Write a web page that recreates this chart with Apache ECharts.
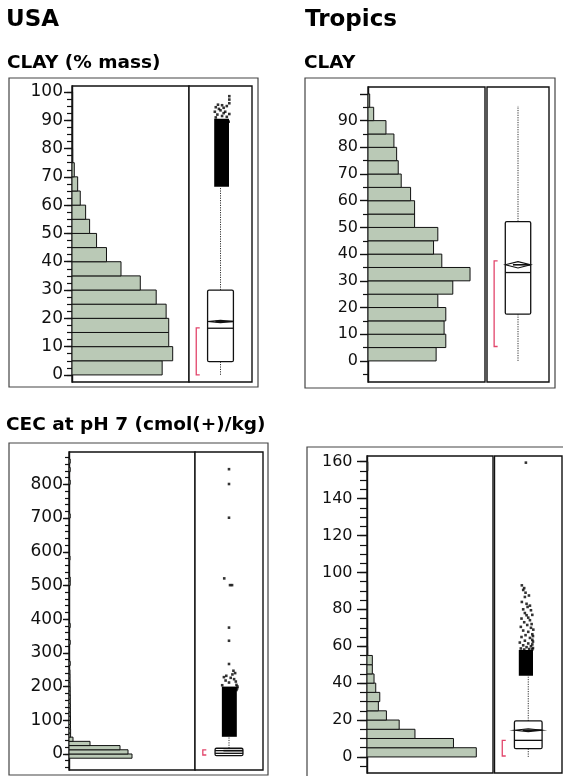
<!DOCTYPE html>
<html><head><meta charset="utf-8">
<script src="https://cdn.jsdelivr.net/npm/echarts@6/dist/echarts.min.js"></script>
<style>html,body{margin:0;padding:0;background:#fff}#c{width:563px;height:776px}</style>
</head><body><div id="c"></div>
<script>
// ================= DATA =================
// USA – CLAY (% mass)
const usaClayBinWidth = 5;
const usaClayBinStart = [0,5,10,15,20,25,30,35,40,45,50,55,60,65,70,75,80,85,90,95];
const usaClayCounts   = [907,1013,973,973,947,847,687,493,347,247,177,137,83,57,23,7,4,3,2,1];
// [lowWhisker, q1, median, q3, highWhisker, mean, meanCI, shortestHalfLo, shortestHalfHi]
const usaClayBox = [0, 4.7, 16.5, 30, 66.5, 18.9, 0.4, 0, 16.6];
const usaClayDense = [-0.2, 0.27, 66.5, 90.5];
const usaClayOutliers = [[-0.15,91],[0.05,91.5],[0.2,91.2],[-0.1,92],[0.1,92.5],[-0.18,93],[0.0,93.5],[0.15,93],[-0.05,94],[0.1,94.4],[-0.15,94.6],[0.2,95],[0.05,95.3],[-0.08,95.5],[0.28,96],[0.28,97.3],[0.28,98.5],[0.28,92.2],[0.26,89.5]];
const usaClayTicks = [0,10,20,30,40,50,60,70,80,90,100];

// Tropics – CLAY
const trClayBinWidth = 5;
const trClayBinStart = [0,5,10,15,20,25,30,35,40,45,50,55,60,65,70,75,80,85,90,95];
const trClayCounts   = [683,780,763,780,700,850,1023,740,657,700,467,467,427,333,303,287,260,180,57,17];
const trClayBox = [0, 17.5, 33.1, 52.2, 95.5, 36.0, 1.2, 5.4, 37.5];
const trClayTicks = [0,10,20,30,40,50,60,70,80,90,100];
const trClayLabels = [0,10,20,30,40,50,60,70,80,90];

// USA – CEC at pH 7
const usaCecBinWidth = 12.5;
const usaCecBinStart = [-12.5,0,12.5,25,37.5,50,62.5,75,87.5,100,112.5,125,137.5,150,162.5,175,187.5,200,212.5,225,237.5,262.5,325,375,500,512.5,575,700,800,837.5,862.5];
const usaCecCounts   = [630,590,510,210,40,16,16,15,15,15,14,14,14,13,13,12,12,11,10,10,9,12,12,12,12,12,10,12,12,12,12];
const usaCecBox = [-5, -5, 2, 17, 51, 10, 0.5, -3, 12];
const usaCecDense = [-0.21, 0.23, 51, 200];
const usaCecOutliers = [[0.0,845],[0.0,801],[0.0,701],[-0.14,521],[0.03,501],[0.09,501],[0.0,375],[0.0,336],[0.0,267],[0.13,247],[0.18,240],[0.1,236],[-0.08,232],[-0.15,228],[0.05,226],[0.15,222],[-0.1,218],[0.2,215],[0.0,212],[0.22,205],[0.25,200],[0.24,195],[-0.2,204],[0.22,190]];
const usaCecTicks = [0,100,200,300,400,500,600,700,800];

// Tropics – CEC
const trCecBinWidth = 5;
const trCecBinStart = [0,5,10,15,20,25,30,35,40,45,50,55,60,65,70,75,80,85,90,155];
const trCecCounts   = [1087,860,477,320,193,113,127,87,70,53,53,7,6,6,6,6,6,6,6,8];
const trCecBox = [0, 4.5, 9.0, 19.5, 43.5, 14.5, 0.8, 0.5, 9.0];
const trCecDense = [-0.28, 0.14, 44, 58];
const trCecOutliers = [[-0.07,159.5],[-0.19,93.0],[-0.12,91.5],[-0.15,90.5],[-0.08,89.0],[-0.10,86.7],[0.02,87.5],[-0.19,84.0],[-0.05,83.0],[0.05,82.0],[-0.02,81.3],[-0.15,80.0],[0.08,79.5],[-0.1,78.0],[0.12,77.0],[-0.05,76.8],[0.0,75.5],[-0.2,75.0],[0.05,74.1],[-0.12,73.0],[0.1,72.0],[-0.03,71.5],[-0.22,70.5],[0.08,70.0],[0.15,69.0],[-0.15,68.5],[0.0,67.8],[0.12,66.5],[-0.08,66.0],[0.14,65.5],[-0.2,65.0],[0.05,64.5],[0.12,63.5],[-0.1,63.0],[0.14,62.5],[-0.25,62.0],[0.0,61.5],[0.12,61.0],[-0.15,60.5],[0.08,60.0],[-0.05,59.5],[0.14,59.0],[-0.22,58.8],[0.12,58.3],[0.03,58.5],[-0.12,58.2]];
const trCecTicks = [0,20,40,60,80,100,120,140,160];

// ================= RENDER =================
function steps(a, b, s) { const r = []; for (let v = a; v <= b + 1e-9; v += s) r.push(+v.toFixed(3)); return r; }
const BAR_FILL = '#bac9b6', INK = '#111', RED = '#e2456b';
const BOX_HW = 0.41, BRACKET_X = -0.77;

const option = { animation: false, backgroundColor: '#fff', title: [], grid: [], xAxis: [], yAxis: [], series: [], graphic: [] };

function histItem(params, api) {
  const p0 = api.coord([0, api.value(1)]);
  const p1 = api.coord([api.value(2), api.value(0)]);
  return { type: 'rect', shape: { x: p0[0], y: p0[1], width: Math.max(p1[0] - p0[0], 0.6), height: p1[1] - p0[1] },
    style: { fill: BAR_FILL, stroke: INK, lineWidth: 1 } };
}
function denseItem(params, api) {
  const a = api.coord([api.value(0), api.value(3)]);
  const b = api.coord([api.value(1), api.value(2)]);
  return { type: 'rect', shape: { x: a[0], y: a[1], width: b[0] - a[0], height: b[1] - a[1] }, style: { fill: '#000' } };
}
function boxItem(params, api) {
  const v = i => api.value(i);
  const lo = v(0), q1 = v(1), med = v(2), q3 = v(3), hi = v(4), mean = v(5), ci = v(6), bLo = v(7), bHi = v(8);
  const X = x => api.coord([x, 0])[0];
  const Y = y => api.coord([0, y])[1];
  const xl = X(-BOX_HW), xr = X(BOX_HW), xc = X(0), bx = X(BRACKET_X);
  const dash = { stroke: '#333', lineWidth: 1, lineDash: [1.2, 1.2] };
  return { type: 'group', children: [
    { type: 'line', shape: { x1: xc, y1: Y(q3), x2: xc, y2: Y(hi) }, style: dash },
    { type: 'line', shape: { x1: xc, y1: Y(q1), x2: xc, y2: Y(lo) }, style: dash },
    { type: 'rect', shape: { x: xl, y: Y(q3), width: xr - xl, height: Y(q1) - Y(q3), r: 1.5 }, style: { fill: '#fff', stroke: INK, lineWidth: 1.3 } },
    { type: 'line', shape: { x1: xl, y1: Y(med), x2: xr, y2: Y(med) }, style: { stroke: INK, lineWidth: 1.3 } },
    { type: 'polygon', shape: { points: [[xl, Y(mean)], [xc, Y(mean + ci)], [xr, Y(mean)], [xc, Y(mean - ci)]] }, style: { fill: 'none', stroke: INK, lineWidth: 1.1 } },
    { type: 'line', shape: { x1: xl + 0.3 * (xr - xl), y1: Y(mean), x2: xr, y2: Y(mean) }, style: { stroke: INK, lineWidth: 1.6 } },
    { type: 'polyline', shape: { points: [[bx + 3.5, Y(bHi)], [bx, Y(bHi)], [bx, Y(bLo)], [bx + 3.5, Y(bLo)]] }, style: { fill: 'none', stroke: RED, lineWidth: 1.3 } }
  ] };
}

function addPanel(cfg) {
  const gH = option.grid.length, gB = gH + 1;
  option.grid.push(Object.assign({ show: true, borderColor: INK, borderWidth: 1.4, backgroundColor: '#fff' }, cfg.hist));
  option.grid.push(Object.assign({ show: true, borderColor: INK, borderWidth: 1.4, backgroundColor: '#fff' }, cfg.box));
  const xH = option.xAxis.length, xB = xH + 1;
  option.xAxis.push({ gridIndex: gH, type: 'value', min: 0, max: cfg.countMax, show: false });
  option.xAxis.push({ gridIndex: gB, type: 'value', min: -1, max: 1, show: false });
  const yH = option.yAxis.length, yB = yH + 2;
  option.yAxis.push({ gridIndex: gH, type: 'value', min: cfg.yMin, max: cfg.yMax, position: 'left',
    axisLine: { show: true, onZero: false, lineStyle: { color: INK, width: 1.4 } },
    axisTick: { show: true, length: cfg.majorLen, customValues: cfg.ticks, lineStyle: { color: INK, width: 1.4 } },
    axisLabel: { show: true, customValues: cfg.labels, margin: cfg.margin, fontSize: cfg.fontSize, fontFamily: 'DejaVu Sans', color: INK },
    splitLine: { show: false } });
  option.yAxis.push({ gridIndex: gH, type: 'value', min: cfg.yMin, max: cfg.yMax, position: 'left',
    axisLine: { show: false, onZero: false },
    axisTick: { show: true, length: cfg.minorLen, customValues: cfg.minor, lineStyle: { color: INK, width: 1.2 } },
    axisLabel: { show: false }, splitLine: { show: false } });
  option.yAxis.push({ gridIndex: gB, type: 'value', min: cfg.yMin, max: cfg.yMax, show: false });

  option.series.push({ type: 'custom', xAxisIndex: xH, yAxisIndex: yH, renderItem: histItem, clip: true,
    data: cfg.binStart.map((s, i) => [s, s + cfg.binWidth, cfg.counts[i]]) });
  if (cfg.dense) option.series.push({ type: 'custom', xAxisIndex: xB, yAxisIndex: yB, renderItem: denseItem, data: [cfg.dense] });
  if (cfg.outliers) option.series.push({ type: 'scatter', xAxisIndex: xB, yAxisIndex: yB, symbol: 'rect', symbolSize: 2.6,
    itemStyle: { color: '#000' }, data: cfg.outliers, silent: true });
  option.series.push({ type: 'custom', xAxisIndex: xB, yAxisIndex: yB, renderItem: boxItem, data: [cfg.boxStats], clip: false });
  option.graphic.push({ type: 'rect', z: -1, silent: true, shape: cfg.frame, style: { fill: 'none', stroke: '#444', lineWidth: 1.2 } });
}

addPanel({ hist: { left: 72, top: 86, width: 117, height: 296 }, box: { left: 189, top: 86, width: 63, height: 296 },
  frame: { x: 9, y: 78, width: 249, height: 309 }, yMin: -2.5, yMax: 102.1, countMax: 1177,
  ticks: usaClayTicks, labels: usaClayTicks, minor: steps(0, 100, 2.5), majorLen: 8, minorLen: 5, margin: 9, fontSize: 17,
  binStart: usaClayBinStart, binWidth: usaClayBinWidth, counts: usaClayCounts, boxStats: usaClayBox, dense: usaClayDense, outliers: usaClayOutliers });

addPanel({ hist: { left: 368, top: 87, width: 117, height: 295 }, box: { left: 487, top: 87, width: 62, height: 295 },
  frame: { x: 305, y: 78, width: 250, height: 310 }, yMin: -7.9, yMax: 102.6, countMax: 1173,
  ticks: trClayTicks, labels: trClayLabels, minor: steps(-5, 95, 10), majorLen: 8, minorLen: 5, margin: 10, fontSize: 16,
  binStart: trClayBinStart, binWidth: trClayBinWidth, counts: trClayCounts, boxStats: trClayBox });

addPanel({ hist: { left: 69, top: 452, width: 126, height: 318 }, box: { left: 195, top: 452, width: 68, height: 318 },
  frame: { x: 9, y: 443, width: 259, height: 332 }, yMin: -47.5, yMax: 896, countMax: 1260,
  ticks: usaCecTicks, labels: usaCecTicks, minor: steps(-40, 880, 20), majorLen: 6, minorLen: 4, margin: 6, fontSize: 17,
  binStart: usaCecBinStart, binWidth: usaCecBinWidth, counts: usaCecCounts, boxStats: usaCecBox, dense: usaCecDense, outliers: usaCecOutliers });

addPanel({ hist: { left: 367, top: 456, width: 126, height: 317 }, box: { left: 494.5, top: 456, width: 67.5, height: 317 },
  frame: { x: 307, y: 447, width: 262, height: 332 }, yMin: -8.7, yMax: 163.1, countMax: 1253,
  ticks: trCecTicks, labels: trCecTicks, minor: steps(-5, 160, 5), majorLen: 10, minorLen: 7, margin: 14.5, fontSize: 16,
  binStart: trCecBinStart, binWidth: trCecBinWidth, counts: trCecCounts, boxStats: trCecBox, dense: trCecDense, outliers: trCecOutliers });

const tStyle = (fs) => ({ fontSize: fs, fontWeight: 'bold', fontFamily: 'DejaVu Sans', color: '#000' });
option.title = [
  { text: 'USA', left: 6, top: 9, padding: 0, textStyle: tStyle(23) },
  { text: 'Tropics', left: 305, top: 9, padding: 0, textStyle: tStyle(23) },
  { text: 'CLAY (% mass)', left: 7, top: 54, padding: 0, textStyle: tStyle(18.5) },
  { text: 'CLAY', left: 304, top: 54, padding: 0, textStyle: tStyle(18.5) },
  { text: 'CEC at pH 7 (cmol(+)/kg)', left: 6, top: 416, padding: 0, textStyle: tStyle(18.5) }
];

const chart = echarts.init(document.getElementById('c'), null, { renderer: 'canvas' });
chart.setOption(option);
</script></body></html>
